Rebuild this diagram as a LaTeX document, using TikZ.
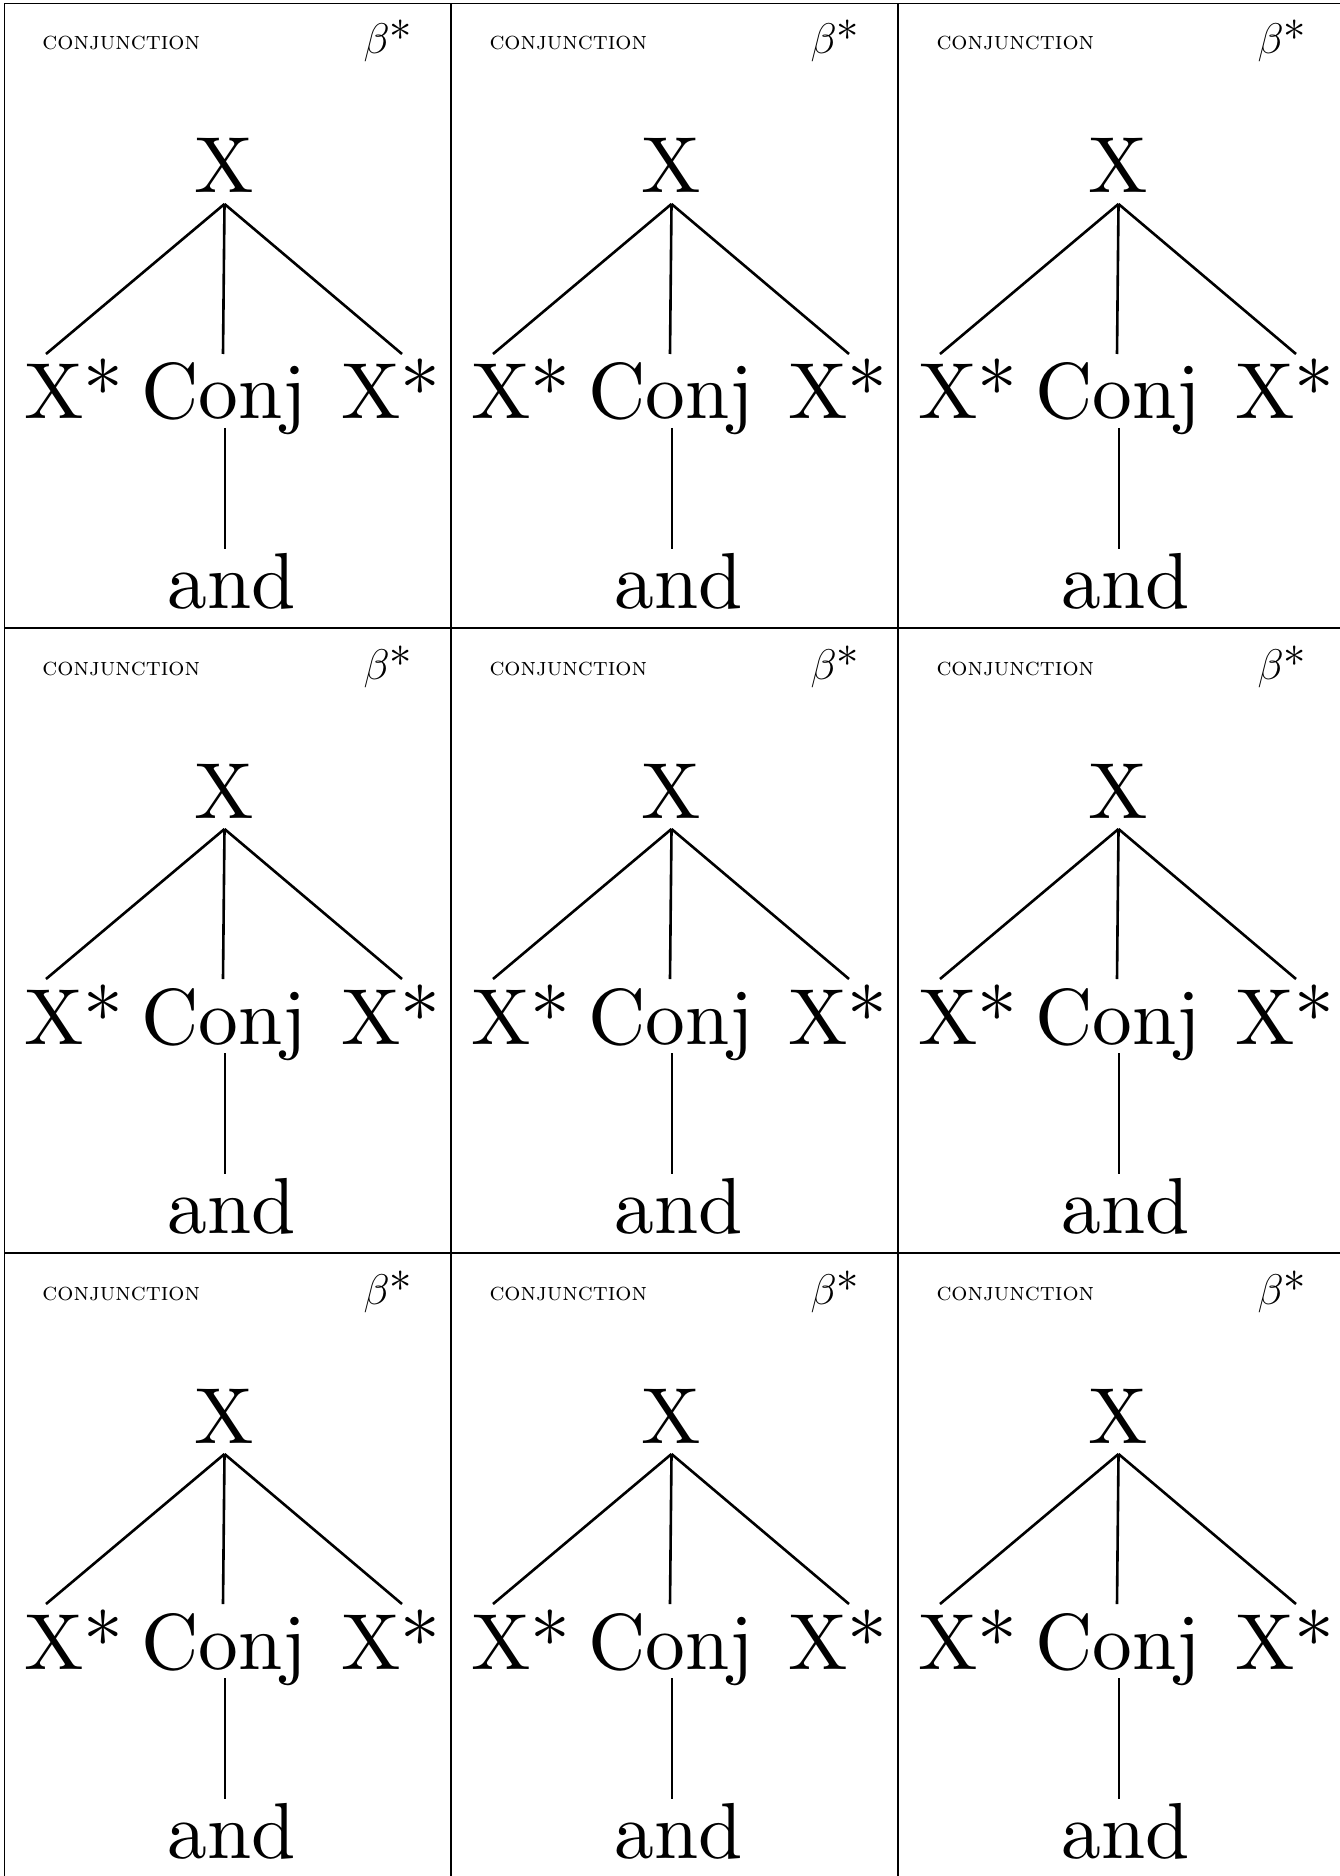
\documentclass[tikz,border=0pt]{standalone}
\usepackage{fontspec}
\setmainfont{lmroman10-regular}[
  Extension=.otf,
  ItalicFont=lmroman10-italic,
  BoldFont=lmroman10-bold,
  SmallCapsFont=lmromancaps10-regular]
\usetikzlibrary{positioning}

\begin{document}
\begin{tikzpicture}[
  x=0.4027pt, y=0.4027pt,
  % Styles
  card/.style={draw=black, line width=0.45pt},
  cat/.style={inner sep=0pt, text depth=0pt, anchor=base,
    font=\fontsize{32}{38}\selectfont},
  title/.style={inner sep=0pt, anchor=base west, font=\fontsize{10.2}{12}\selectfont\scshape},
  tag/.style={inner sep=0pt, anchor=base west, font=\fontsize{18}{22}\selectfont},
  branch/.style={line width=1.05pt},
]

\useasboundingbox (0,0) rectangle (1340,-1876);

% === 3 x 3 SHEET OF CARDS ===
\foreach \col in {0,1,2} {
  \foreach \row in {0,1,2} {
    \begin{scope}[shift={(4+447*\col,-3-625*\row)}]
      % frame
      \draw[card] (0.5,-0.5) rectangle (446.5,-624.5);

      % header
      \node[title] (name-\col-\row) at (38,-47) {conjunction};
      \node[tag] (tag-\col-\row) at (359,-51) {$\beta$*};

      % tree
      \node[cat] (root-\col-\row) at (220.5,-190) {X};
      \node[cat] (left-\col-\row) at (70,-416) {X*};
      \node[cat] (conj-\col-\row) at (220,-416) {Conj};
      \node[cat] (right-\col-\row) at (387,-416) {X*};
      \node[cat] (word-\col-\row) at (227.5,-605) {and};

      \draw[branch] ([shift={(0,-11)}]root-\col-\row.base) -- ([shift={(-28,65)}]left-\col-\row.base);
      \draw[branch] ([shift={(0,-11)}]root-\col-\row.base) -- ([shift={(-1,65)}]conj-\col-\row.base);
      \draw[branch] ([shift={(0,-11)}]root-\col-\row.base) -- ([shift={(11,65)}]right-\col-\row.base);
      \draw[branch] ([shift={(1,-9)}]conj-\col-\row.base) -- ([shift={(-6.5,59)}]word-\col-\row.base);
    \end{scope}
  }
}

\end{tikzpicture}
\end{document}
